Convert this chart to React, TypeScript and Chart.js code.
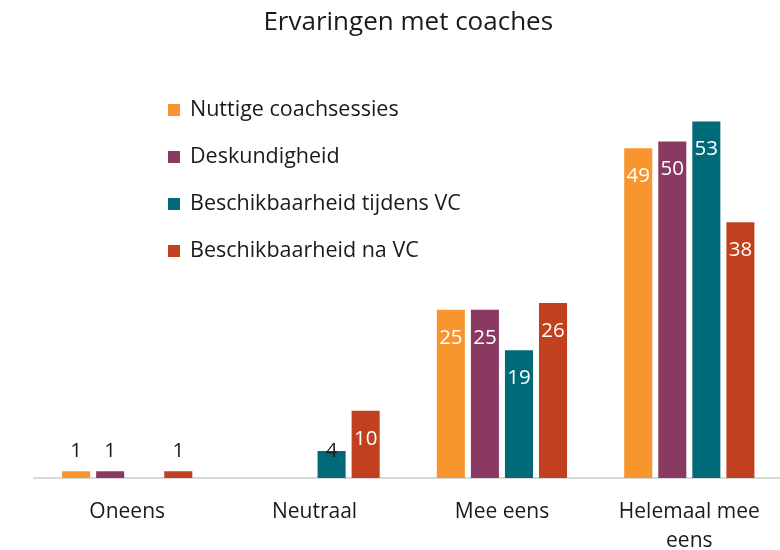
import React, { useEffect, useRef } from "react";
import { Chart, registerables } from "chart.js";

Chart.register(...registerables);

const title = "Ervaringen met coaches";
const categories: (string | string[])[] = ["Oneens", "Neutraal", "Mee eens", ["Helemaal mee", "eens"]];
const seriesNames = [
  "Nuttige coachsessies",
  "Deskundigheid",
  "Beschikbaarheid tijdens VC",
  "Beschikbaarheid na VC",
];
const nuttige = [1, null, 25, 49];
const deskundigheid = [1, null, 25, 50];
const tijdensVC = [null, 4, 19, 53];
const naVC = [1, 10, 26, 38];
const colors = ["#F7962F", "#8A3A62", "#016A78", "#C1411E"];

const FONT = "'Open Sans', Lato, sans-serif";

const labelPlugin = {
  id: "valueLabels",
  afterDatasetsDraw(chart: any) {
    const ctx = chart.ctx;
    const base = chart.scales.y.getPixelForValue(0);
    ctx.save();
    ctx.font = `20.5px ${FONT}`;
    ctx.textAlign = "center";
    ctx.textBaseline = "middle";
    chart.data.datasets.forEach((ds: any, i: number) => {
      const meta = chart.getDatasetMeta(i);
      meta.data.forEach((bar: any, j: number) => {
        const v = ds.data[j];
        if (v == null || v === 0) return;
        const h = base - bar.y;
        if (h >= 30) {
          ctx.fillStyle = "#ffffff";
          ctx.fillText(String(v), bar.x, bar.y + 28);
        } else {
          ctx.fillStyle = "#1a1a1a";
          ctx.fillText(String(v), bar.x, base - 27);
        }
      });
    });
    ctx.restore();
  },
};

const legendPlugin = {
  id: "insideLegend",
  afterDraw(chart: any) {
    const ctx = chart.ctx;
    ctx.save();
    ctx.font = `21.5px ${FONT}`;
    ctx.textAlign = "left";
    ctx.textBaseline = "middle";
    seriesNames.forEach((name, i) => {
      const y = 110 + i * 47;
      ctx.fillStyle = colors[i];
      ctx.fillRect(168, y - 6, 12, 12);
      ctx.fillStyle = "#1a1a1a";
      ctx.fillText(name, 190, y);
    });
    ctx.restore();
  },
};

export default function App() {
  const ref = useRef<HTMLCanvasElement>(null);
  useEffect(() => {
    if (!ref.current) return;
    const data = [nuttige, deskundigheid, tijdensVC, naVC];
    const chart = new Chart(ref.current, {
      type: "bar",
      data: {
        labels: categories,
        datasets: seriesNames.map((n, i) => ({
          label: n,
          data: data[i],
          backgroundColor: colors[i],
          borderWidth: 0,
        })),
      },
      options: {
        animation: false,
        responsive: false,
        layout: { padding: { left: 33.5, right: 0, top: 0, bottom: 0 } },
        datasets: { bar: { categoryPercentage: 0.727, barPercentage: 0.824 } },
        plugins: {
          legend: { display: false },
          tooltip: { enabled: false },
          title: {
            display: true,
            text: title,
            color: "#1a1a1a",
            font: { family: FONT, size: 26, weight: "normal" },
            padding: { top: 7, bottom: 20 },
          },
        },
        scales: {
          x: {
            grid: { display: false },
            border: { display: true, color: "#d9d9d9", width: 2 },
            ticks: {
              color: "#1a1a1a",
              font: { family: FONT, size: 21, lineHeight: 1.38 },
              padding: 12,
              maxRotation: 0,
              autoSkip: false,
            },
            afterFit(scale: any) {
              scale.height = 72;
            },
          },
          y: {
            display: false,
            min: 0,
            max: 62.4,
          },
        },
      },
      plugins: [labelPlugin, legendPlugin],
    });
    return () => chart.destroy();
  }, []);
  return (
    <div style={{ position: "absolute", left: 0, top: 0, width: 780, height: 550, overflow: "hidden", background: "#fff" }}>
      <canvas ref={ref} width={783} height={550} style={{ display: "block" }} />
    </div>
  );
}
